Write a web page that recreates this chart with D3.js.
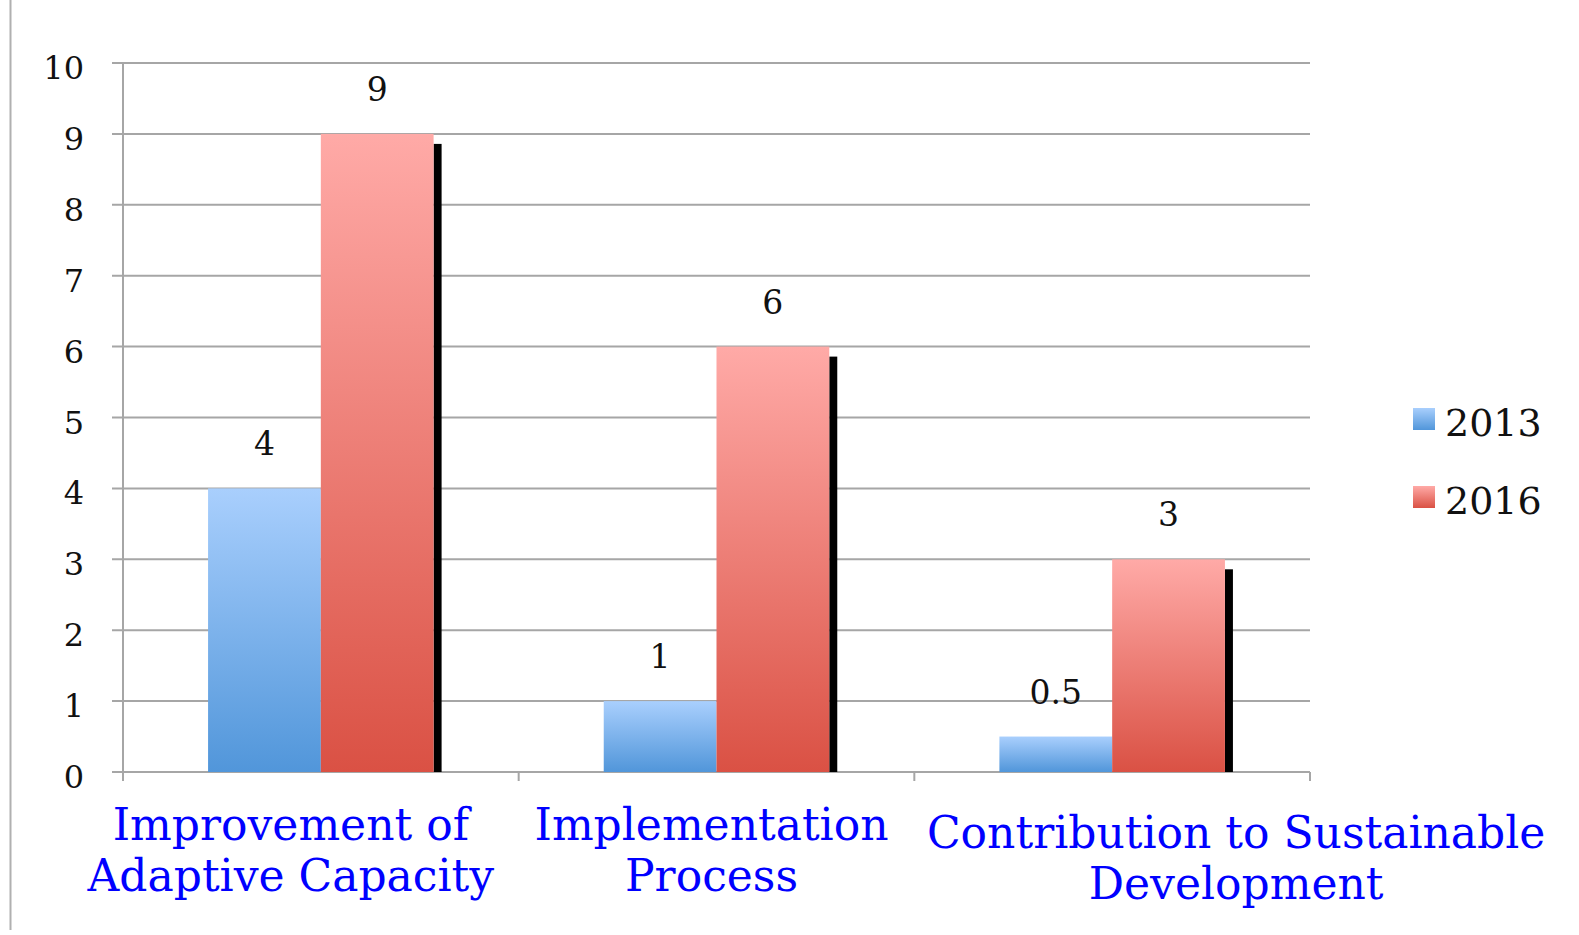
<!DOCTYPE html>
<html>
<head>
<meta charset="utf-8">
<script src="https://cdn.jsdelivr.net/npm/d3@7"></script>
<style>
  body { margin: 0; background: #fff; }
  svg { display: block; }
</style>
</head>
<body>
<svg id="chart" width="1579" height="935"></svg>
<script>
const CATEGORIES = [
    ["Improvement of", "Adaptive Capacity"],
    ["Implementation", "Process"],
    ["Contribution to Sustainable", "Development"]
];
const SERIES = ["2013", "2016"];
const VALUES_2013 = [4, 1, 0.5];
const VALUES_2016 = [9, 6, 3];
const Y_TICKS = [0, 1, 2, 3, 4, 5, 6, 7, 8, 9, 10];

const FONT = "'DejaVu Serif', 'Liberation Serif', serif";
const LEFT = 123, RIGHT = 1310, TOP = 63, BOTTOM = 772;

const svg = d3.select("#chart");

const scaleX = d3.scaleBand()
    .domain(d3.range(CATEGORIES.length))
    .range([LEFT, RIGHT]);

const scaleY = d3.scaleLinear()
    .domain([0, 10])
    .range([BOTTOM, TOP]);

const barW = scaleX.bandwidth() * 0.285;
const inner = d3.scaleBand()
    .domain(SERIES)
    .range([scaleX.bandwidth() / 2 - barW, scaleX.bandwidth() / 2 + barW]);

// gradients
const defs = svg.append("defs");
const gradients = {
    "2013": ["#a9cffd", "#5196da"],
    "2016": ["#ffaaa7", "#da5144"]
};
Object.entries(gradients).forEach(([k, c]) => {
    const g = defs.append("linearGradient")
        .attr("id", "g" + k)
        .attr("x1", 0).attr("y1", 0).attr("x2", 0).attr("y2", 1);
    g.append("stop").attr("offset", "0%").attr("stop-color", c[0]);
    g.append("stop").attr("offset", "100%").attr("stop-color", c[1]);
});

// frame line on the left
svg.append("line")
    .attr("x1", 10.5).attr("x2", 10.5)
    .attr("y1", 0).attr("y2", 930)
    .attr("stroke", "#b0b0b0").attr("stroke-width", 2);

// grid lines
svg.append("g")
    .selectAll("line")
    .data(Y_TICKS)
    .join("line")
    .attr("x1", LEFT - 11).attr("x2", RIGHT)
    .attr("y1", d => scaleY(d)).attr("y2", d => scaleY(d))
    .attr("stroke", "#a6a6a6").attr("stroke-width", 2);

// y axis line
svg.append("line")
    .attr("x1", LEFT).attr("x2", LEFT)
    .attr("y1", TOP).attr("y2", BOTTOM + 9)
    .attr("stroke", "#a6a6a6").attr("stroke-width", 2);

// category ticks
svg.append("g")
    .selectAll("line")
    .data(d3.range(CATEGORIES.length + 1))
    .join("line")
    .attr("x1", i => i < CATEGORIES.length ? scaleX(i) : RIGHT)
    .attr("x2", i => i < CATEGORIES.length ? scaleX(i) : RIGHT)
    .attr("y1", BOTTOM).attr("y2", BOTTOM + 9)
    .attr("stroke", "#a6a6a6").attr("stroke-width", 2);

// y tick labels
svg.append("g")
    .selectAll("text")
    .data(Y_TICKS)
    .join("text")
    .attr("x", 84)
    .attr("y", d => scaleY(d) + 16)
    .attr("text-anchor", "end")
    .attr("font-family", FONT)
    .attr("font-size", 32)
    .attr("fill", "#111")
    .text(d => d);

const rows = CATEGORIES.map((c, i) => ({
    i,
    bars: [
        { key: "2013", value: VALUES_2013[i] },
        { key: "2016", value: VALUES_2016[i] }
    ]
}));

const groups = svg.append("g")
    .selectAll("g")
    .data(rows)
    .join("g")
    .attr("transform", d => `translate(${scaleX(d.i)},0)`);

// shadow on the 2016 bars
groups.append("rect")
    .attr("x", inner("2016") + inner.bandwidth())
    .attr("y", d => scaleY(d.bars[1].value) + 10)
    .attr("width", 8)
    .attr("height", d => BOTTOM - scaleY(d.bars[1].value) - 10)
    .attr("fill", "#000");

groups.selectAll(".bar")
    .data(d => d.bars)
    .join("rect")
    .attr("class", "bar")
    .attr("x", b => inner(b.key))
    .attr("y", b => scaleY(b.value))
    .attr("width", inner.bandwidth())
    .attr("height", b => BOTTOM - scaleY(b.value))
    .attr("fill", b => `url(#g${b.key})`);

groups.selectAll(".val")
    .data(d => d.bars)
    .join("text")
    .attr("class", "val")
    .attr("x", b => inner(b.key) + inner.bandwidth() / 2)
    .attr("y", b => scaleY(b.value) - 33)
    .attr("text-anchor", "middle")
    .attr("font-family", FONT)
    .attr("font-size", 33)
    .attr("fill", "#111")
    .text(b => b.value);

// category labels
const labelShift = [-30, -5, 124];
svg.append("g")
    .selectAll("text")
    .data(CATEGORIES)
    .join("text")
    .attr("x", (d, i) => scaleX(i) + scaleX.bandwidth() / 2 + labelShift[i])
    .attr("y", (d, i) => i === 2 ? 848 : 840)
    .attr("text-anchor", "middle")
    .attr("font-family", FONT)
    .attr("font-size", 44)
    .attr("fill", "#0000ff")
    .selectAll("tspan")
    .data(d => d)
    .join("tspan")
    .attr("x", function () { return d3.select(this.parentNode).attr("x"); })
    .attr("dy", (d, j) => j === 0 ? 0 : 51)
    .text(d => d);

// legend
const legend = svg.append("g")
    .selectAll("g")
    .data(SERIES)
    .join("g")
    .attr("transform", (d, i) => `translate(1413,${408 + i * 78})`);

legend.append("rect")
    .attr("width", 22).attr("height", 22)
    .attr("fill", d => `url(#g${d})`);

legend.append("text")
    .attr("x", 32).attr("y", 28)
    .attr("font-family", FONT)
    .attr("font-size", 38)
    .attr("fill", "#111")
    .text(d => d);
</script>
</body>
</html>
